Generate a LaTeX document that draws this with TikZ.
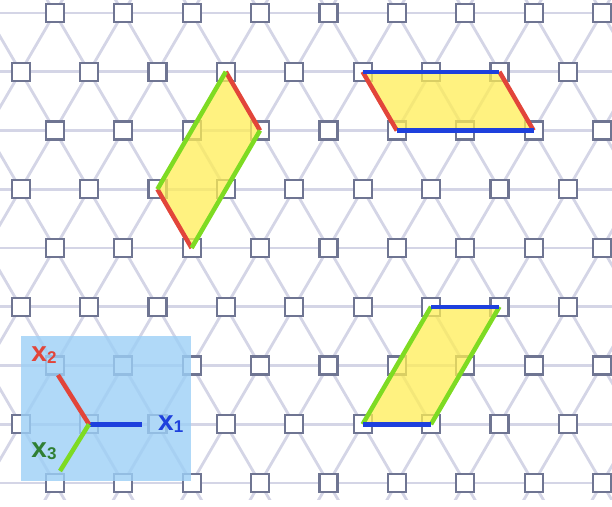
\documentclass[tikz,border=0pt]{standalone}
\usepackage{fontspec}
\setmainfont{Liberation Sans}
\usetikzlibrary{positioning}
\definecolor{latline}{HTML}{D4D5E6}
\definecolor{sitegray}{HTML}{6F7592}
\definecolor{cellyellow}{HTML}{FFEE55}
\definecolor{axred}{HTML}{E2453A}
\definecolor{axgreen}{HTML}{7EDB22}
\definecolor{axblue}{HTML}{1E40DD}
\definecolor{labgreen}{HTML}{2F7F33}
\definecolor{boxblue}{HTML}{9CCFF6}
\tikzset{
  site/.style={draw=sitegray, line width=2.2pt, fill=white, minimum size=18pt, inner sep=0pt},
  latt/.style={draw=latline, line width=2.8pt},
  cell/.style={fill=cellyellow, fill opacity=0.75},
  edge/.style={line width=4.5pt},
  axlab/.style={font=\bfseries, inner sep=0pt},
}
\newcommand{\axname}[1]{{\fontsize{28}{28}\selectfont x}\raisebox{-2pt}{\fontsize{17}{17}\selectfont #1}}

\begin{document}
\begin{tikzpicture}[x=1pt, y=-1pt]
    \useasboundingbox (0,0) rectangle (612,506);
    % triangular lattice
    \begin{scope}
      \clip (0,0) rectangle (612,499);
      \foreach \r in {0,...,8}
        \draw[latt] (-10,{13+58.75*\r}) -- (622,{13+58.75*\r});
      \foreach \m in {-9,...,18} {
        \draw[latt] ({54.8+68.4*\m-34.2},-45.75) -- ({54.8+68.4*\m+342},600.5);
        \draw[latt] ({54.8+68.4*\m+34.2},-45.75) -- ({54.8+68.4*\m-342},600.5);
      }
    \end{scope}
    \foreach \r in {0,...,8}
      \foreach \k in {0,...,8} {
        \pgfmathsetmacro\xs{(mod(\r,2)==0 ? 54.8 : 20.6)+68.4*\k}
        \node[site] (s-\r-\k) at (\xs,{13+58.75*\r}) {};
      }
    % unit cells
    \fill[cell] (s-1-3.center) -- (s-2-3.center) -- (s-4-2.center) -- (s-3-2.center) -- cycle;
    \draw[edge, axred] (s-1-3.center) -- (s-2-3.center);
    \draw[edge, axred] (s-3-2.center) -- (s-4-2.center);
    \draw[edge, axgreen] (s-1-3.center) -- (s-3-2.center);
    \draw[edge, axgreen] (s-2-3.center) -- (s-4-2.center);

    \fill[cell] (s-1-5.center) -- (s-1-7.center) -- (s-2-7.center) -- (s-2-5.center) -- cycle;
    \draw[edge, axred] (s-1-5.center) -- (s-2-5.center);
    \draw[edge, axred] (s-1-7.center) -- (s-2-7.center);
    \draw[edge, axblue] (s-1-5.center) -- (s-1-7.center);
    \draw[edge, axblue] (s-2-5.center) -- (s-2-7.center);

    \fill[cell] (s-5-6.center) -- (s-5-7.center) -- (s-7-6.center) -- (s-7-5.center) -- cycle;
    \draw[edge, axgreen] (s-7-5.center) -- (s-5-6.center);
    \draw[edge, axgreen] (s-7-6.center) -- (s-5-7.center);
    \draw[edge, axblue] (s-5-6.center) -- (s-5-7.center);
    \draw[edge, axblue] (s-7-5.center) -- (s-7-6.center);

    % axes inset
    \fill[boxblue, fill opacity=0.8] (21,336) rectangle (191,481);
    \coordinate (e1) at (142,424.25);
    \coordinate (e2) at (58,375);
    \coordinate (e3) at (60,471);
    \draw[edge, axblue] (s-7-1.center) -- (e1);
    \draw[edge, axred] (s-7-1.center) -- (e2);
    \draw[edge, axgreen] (s-7-1.center) -- (e3);
    \node[axlab, text=axblue, right=16pt of e1] (l1) {\axname{1}};
    \node[axlab, text=axred] (l2) at (44,355) {\axname{2}};
    \node[axlab, text=labgreen] (l3) at (44,451) {\axname{3}};
\end{tikzpicture}
\end{document}
